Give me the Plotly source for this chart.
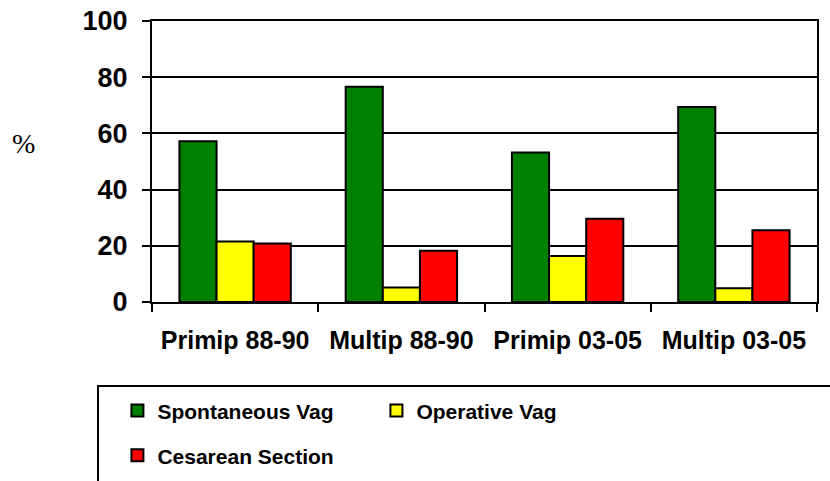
import plotly.graph_objects as go

categories = ["Primip 88-90", "Multip 88-90", "Primip 03-05", "Multip 03-05"]
spontaneous = [57.2, 76.6, 53.2, 69.4]
operative = [21.5, 5.2, 16.4, 4.9]
cesarean = [20.8, 18.2, 29.6, 25.5]
y_ticks = [0, 20, 40, 60, 80, 100]

FONT = "Liberation Sans, Arial, sans-serif"

fig = go.Figure()
fig.add_trace(go.Bar(name="Spontaneous Vag", x=categories, y=spontaneous,
                     marker=dict(color="#008000", line=dict(color="black", width=2)),
                     legend="legend"))
fig.add_trace(go.Bar(name="Operative Vag", x=categories, y=operative,
                     marker=dict(color="#FFFF00", line=dict(color="black", width=2)),
                     legend="legend"))
fig.add_trace(go.Bar(name="Cesarean Section", x=categories, y=cesarean,
                     marker=dict(color="#FF0000", line=dict(color="black", width=2)),
                     legend="legend2"))

legend_font = dict(family=FONT, size=21, color="black", weight="bold")

fig.update_layout(
    width=830, height=481,
    margin=dict(l=152, r=13, t=21, b=179, autoexpand=False),
    paper_bgcolor="white", plot_bgcolor="white",
    barmode="group", bargap=0.33, bargroupgap=0,
    showlegend=True,
    legend=dict(orientation="h", x=-0.052, y=-0.314, xanchor="left", yanchor="top",
                entrywidth=214, font=legend_font, bgcolor="rgba(0,0,0,0)",
                borderwidth=0),
    legend2=dict(orientation="h", x=-0.052, y=-0.474, xanchor="left", yanchor="top",
                 font=legend_font, bgcolor="rgba(0,0,0,0)", borderwidth=0),
    xaxis=dict(type="category", showline=True, linecolor="black", linewidth=2,
               mirror=True, ticks="outside", tickson="boundaries", ticklen=8,
               tickwidth=2, tickcolor="black", showgrid=False,
               tickfont=dict(family=FONT, size=25, color="black", weight="bold"),
               ticklabelstandoff=15),
    yaxis=dict(range=[0, 100], tickvals=y_ticks, showline=True, linecolor="black",
               linewidth=2, mirror=True, ticks="outside", ticklen=8, tickwidth=2,
               tickcolor="black", showgrid=True, gridcolor="black", gridwidth=1.5,
               zeroline=False,
               tickfont=dict(family=FONT, size=27, color="black", weight="bold"),
               ticklabelstandoff=9),
    annotations=[dict(text="%", xref="paper", yref="paper", x=(23 - 152) / 665,
                      y=(302 - 143) / 281, xanchor="center", yanchor="middle",
                      showarrow=False,
                      font=dict(family="Liberation Serif, Times New Roman, serif",
                                size=28, color="black"))],
    shapes=[dict(type="rect", xref="paper", yref="paper",
                 x0=(98 - 152) / 665, x1=(834 - 152) / 665,
                 y0=(302 - 485) / 281, y1=(302 - 386) / 281,
                 line=dict(color="black", width=2), fillcolor="rgba(0,0,0,0)")],
)

fig.write_html("out.html", config={"displayModeBar": False},
               post_script="document.body.style.margin='0';document.body.style.overflow='hidden';")
